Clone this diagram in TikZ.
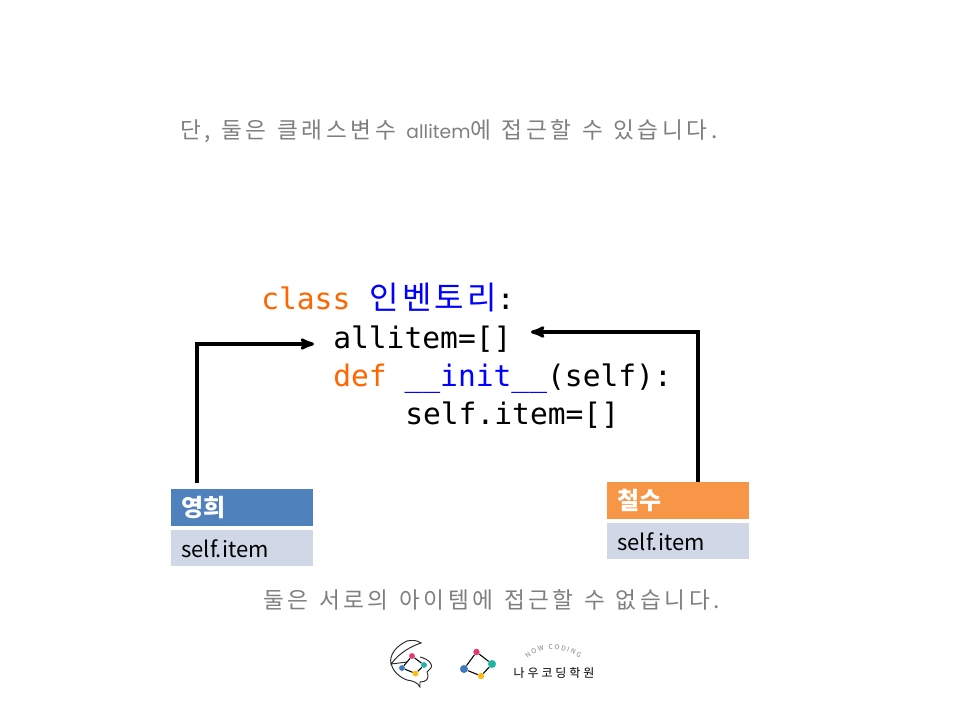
\documentclass[tikz,border=0pt]{standalone}
\usepackage{fontspec}
\setmainfont{Noto Sans CJK KR}
\newfontfamily\kormsg[LetterSpace=16,WordSpace=1.2]{Noto Sans CJK KR}
\newfontfamily\kortitle[LetterSpace=10]{Noto Sans CJK KR}
\newfontfamily\korlogo[LetterSpace=24]{Noto Sans CJK KR}
\newfontfamily\latinmsg{Poppins}
\newfontfamily\codefont{DejaVu Sans Mono}
\usepackage{tikz}
\usetikzlibrary{positioning}
\usetikzlibrary{arrows,decorations.text}
\definecolor{msggray}{HTML}{7F7F7F}
\definecolor{kworange}{HTML}{FF6600}
\definecolor{namechead}{HTML}{4F81BD}
\definecolor{chulhead}{HTML}{F79646}
\definecolor{itembody}{HTML}{D0D8E8}
\definecolor{logored}{HTML}{E5386D}
\definecolor{logoteal}{HTML}{1FB5A5}
\definecolor{logoyellow}{HTML}{F9BC15}
\definecolor{logoblue}{HTML}{3E78BE}
\tikzset{
  head/.style={minimum width=106.5pt,minimum height=27.5pt,inner sep=0pt,text=white,font=\fontsize{18}{18}\selectfont\bfseries,text width=91.5pt,align=left},
  body/.style={minimum width=106.5pt,minimum height=27pt,inner sep=0pt,fill=itembody,font=\fontsize{16.5}{16.5}\selectfont,text width=91.5pt,align=left},
  code/.style={anchor=base west,inner sep=0pt,font=\fontsize{22.2}{22.2}\codefont},
  msg/.style={anchor=base west,inner sep=0pt,text=msggray,font=\fontsize{17}{17}\kormsg},
  dotbig/.style={circle,inner sep=0pt,minimum size=6pt},
  dotlow/.style={circle,inner sep=0pt,minimum size=4.8pt},
  dotsmall/.style={circle,inner sep=0pt,minimum size=4.4pt},
  link/.style={-,line width=0.8pt,black}
}
\begin{document}
\begin{tikzpicture}[x=0.75pt,y=-0.75pt,->,>=stealth',node distance=3pt]
\useasboundingbox (0,0) rectangle (960,720);
% messages
\node[msg] (msg_top) at (180,139) {단, 둘은 클래스변수 {\fontsize{14}{14}\latinmsg allitem}에 접근할 수 있습니다.};
\node[msg] (msg_bottom) at (263,608) {둘은 서로의 아이템에 접근할 수 없습니다.};
% code
\node[code] (line_1) at (261,310) {\textcolor{kworange}{class} \hspace{1pt}\textcolor{blue}{\fontsize{24}{24}\kortitle 인벤토리}:};
\node[code] (line_2) at (333,348) {allitem=[]};
\node[code] (line_3) at (333,386) {\textcolor{kworange}{def} \textcolor{blue}{\_\_init\_\_}(self):};
\node[code] (line_4) at (405,424) {self.item=[]};
% instances
\node[head,fill=namechead,anchor=north west] (young) at (171,489) {영희};
\node[body,below=of young] (young_item) {self.item};
\node[head,fill=chulhead,anchor=north west] (chul) at (607,482) {철수};
\node[body,below=of chul] (chul_item) {self.item};
% arrows
\coordinate (young_to) at (314,344);
\coordinate (chul_to) at (531,332);
\coordinate (young_from) at (197,483);
\coordinate (chul_from) at (698,482);
\draw[line width=2.3pt] (young_from) |- (young_to);
\draw[line width=2.3pt] (chul_from) |- (chul_to);
% logo, left
\draw[-,line width=0.7pt,black!85] (407,662) -- (391,664) .. controls (389,655) and (396,646) .. (407,641)
  .. controls (412,640) and (417,640) .. (421,643)
  .. controls (412,646) and (400,652) .. (391,664);
\draw[-,line width=0.7pt,black!85] (391,664) .. controls (393,671) and (399,677) .. (407,680)
  .. controls (414,681) and (418,683) .. (420,687) -- (420,682)
  .. controls (426,682) and (430,679) .. (427,672)
  .. controls (430,669) and (433,667) .. (431,664)
  .. controls (429,660) and (424,658) .. (420,657);
\node[dotsmall,fill=logored] (a_red) at (412,656) {};
\node[dotsmall,fill=logoteal] (a_teal) at (424,665) {};
\node[dotsmall,fill=logoyellow] (a_yellow) at (415.5,673.5) {};
\node[dotsmall,fill=logoblue] (a_blue) at (402,668) {};
\draw[link] (a_red) -- (a_teal);
\draw[link] (a_teal) -- (a_yellow);
\draw[link] (a_yellow) -- (a_blue);
\draw[link] (a_blue) -- (a_red);
% logo, right
\node[dotlow,fill=logored] (b_red) at (476.5,652) {};
\node[dotbig,fill=logoteal] (b_teal) at (492,664) {};
\node[dotlow,fill=logoyellow] (b_yellow) at (481,676) {};
\node[dotbig,fill=logoblue] (b_blue) at (464,669) {};
\draw[link] (b_red) -- (b_teal);
\draw[link] (b_teal) -- (b_yellow);
\draw[link] (b_yellow) -- (b_blue);
\draw[link] (b_blue) -- (b_red);
\node[inner sep=0pt,font=\fontsize{9}{9}\korlogo] (logo_name) at (554,673) {나우코딩학원};
\path[-,decorate,decoration={text along path,text align=center,
  text={|\fontsize{5}{5}\selectfont\color{gray}|N O W \ \ C O D I N G}}]
  (526,660) .. controls (538,646) and (568,646) .. (581,660);
\end{tikzpicture}
\end{document}
